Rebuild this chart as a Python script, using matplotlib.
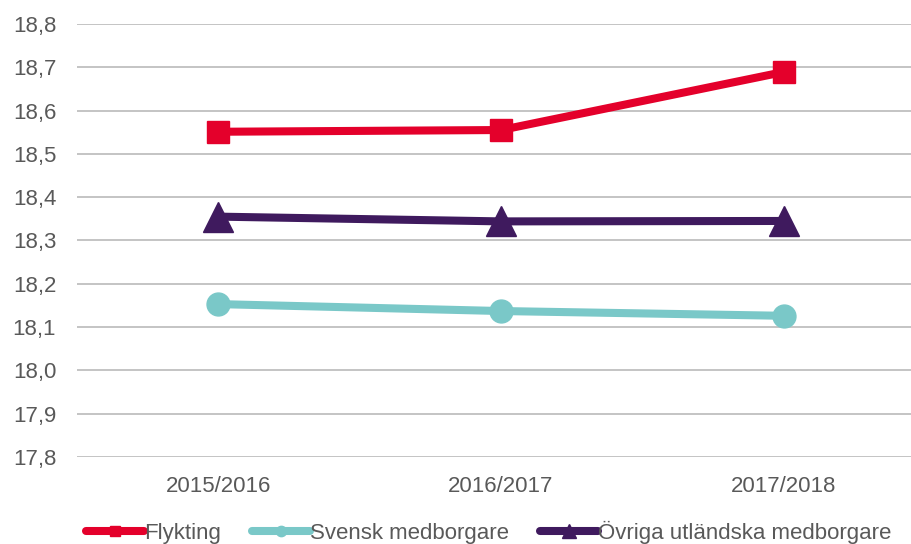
import matplotlib
matplotlib.use("Agg")
import matplotlib.pyplot as plt
import numpy as np

plt.rcParams['font.family'] = ['Liberation Sans', 'DejaVu Sans']

years = ["2015/2016", "2016/2017", "2017/2018"]
flykting = [18.551, 18.555, 18.689]
svensk = [18.153, 18.137, 18.126]
ovriga = [18.355, 18.344, 18.345]

fig = plt.figure(figsize=(9.12, 5.44), dpi=100)
ax = fig.add_axes([0.0844, 0.16, 0.9156, 0.796])

x = np.arange(len(years))
ax.plot(x, flykting, color='#E4002B', lw=5.8, marker='s', ms=16.5, label='Flykting', zorder=3)
ax.plot(x, svensk, color='#7AC8C8', lw=5.8, marker='o', ms=16.5, label='Svensk medborgare', zorder=3)
ax.plot(x, ovriga, color='#3F1A5E', lw=5.8, marker='^', ms=22, label='Övriga utländska medborgare', zorder=3)

ax.set_ylim(17.8, 18.8)
ax.set_xlim(-0.5, 2.454)
yt = np.round(np.arange(17.8, 18.81, 0.1), 1)
ax.set_yticks(yt)
ax.set_yticklabels([f"{v:.1f}".replace('.', ',') for v in yt])
ax.set_xticks(x)
ax.set_xticklabels(years)
ax.tick_params(length=0, labelsize=16, labelcolor='#595959')
ax.tick_params(axis='x', pad=14)
ax.tick_params(axis='y', pad=15)
ax.grid(axis='y', color='#BFBFBF', lw=1.3)
ax.set_axisbelow(True)
for s in ax.spines.values():
    s.set_visible(False)

leg = fig.legend(loc='lower center', bbox_to_anchor=(0.536, -0.037), ncol=3, frameon=False,
                 fontsize=16, handlelength=2.6, handletextpad=0.0, columnspacing=1.4,
                 markerscale=0.45)
for t in leg.get_texts():
    t.set_color('#595959')
for h in leg.legend_handles:
    h.set_solid_capstyle('round')

fig.savefig('out.png', dpi=100)
